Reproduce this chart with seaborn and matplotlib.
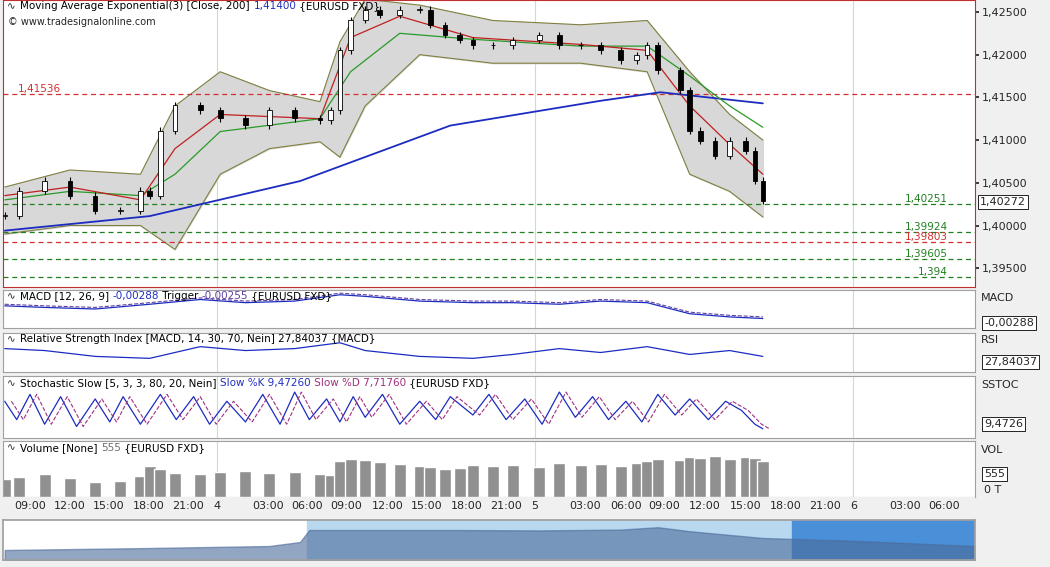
import matplotlib
matplotlib.use("Agg")
import matplotlib.pyplot as plt
import seaborn as sns
import numpy as np

sns.set_theme(style="white")
plt.rcParams['font.family'] = ['DejaVu Sans']

# ---- data (hours from 09:00 day 3) ----
hours = [-1.9,-0.8,1.1,3.0,4.9,6.8,8.3,9.0,9.8,10.9,12.8,14.3,16.2,18.0,19.9,21.8,22.6,23.3,24.1,25.2,26.3,27.8,29.3,30.1,31.2,32.3,33.3,34.8,36.3,38.3,39.8,41.4,42.9,44.4,45.6,46.4,47.2,48.9,49.6,50.4,51.5,52.6,53.8,54.5,55.1]
closes = [1.40113,1.40407,1.40524,1.40348,1.40171,1.40171,1.40407,1.40348,1.41112,1.41406,1.41347,1.41253,1.41171,1.41347,1.41253,1.41230,1.41347,1.42053,1.42406,1.42524,1.42465,1.42524,1.42524,1.42347,1.42230,1.42171,1.42112,1.42112,1.42171,1.42230,1.42112,1.42112,1.42053,1.41935,1.41994,1.42112,1.41818,1.41583,1.41112,1.40994,1.40818,1.40994,1.40877,1.40524,1.40289]
ema200_h = [-1.9, 9.0, 20.3, 31.6, 42.9, 47.4, 55.1]
ema200 = [1.3994, 1.4011, 1.4052, 1.4117, 1.4146, 1.4156, 1.4143]
bb_h = [-1.9, 3.0, 8.3, 10.9, 14.3, 18.0, 21.8, 23.3, 25.2, 29.3, 34.8, 41.4, 46.4, 49.6, 52.6, 55.1]
bb_up = [1.4045, 1.4065, 1.4060, 1.4140, 1.4180, 1.4158, 1.4145, 1.4215, 1.4265, 1.4258, 1.4240, 1.4235, 1.4240, 1.4180, 1.4130, 1.4100]
bb_lo = [1.3990, 1.4000, 1.4000, 1.3972, 1.4060, 1.4090, 1.4098, 1.4080, 1.4140, 1.4200, 1.4190, 1.4190, 1.4180, 1.4060, 1.4040, 1.4010]
ema3_h = [-1.9, 3.0, 8.3, 10.9, 14.3, 21.8, 24.1, 27.8, 33.3, 41.4, 46.4, 49.6, 52.6, 55.1]
ema3 = [1.4035, 1.4045, 1.4030, 1.4090, 1.4130, 1.4125, 1.4220, 1.4245, 1.4220, 1.4212, 1.4205, 1.4140, 1.4095, 1.4060]
ema20 = [1.4030, 1.4040, 1.4035, 1.4060, 1.4110, 1.4125, 1.4180, 1.4225, 1.4218, 1.4210, 1.4210, 1.4175, 1.4140, 1.4115]
levels_red = [1.41536, 1.39803]
levels_green = [1.40251, 1.39924, 1.39605, 1.394]
osc_h = [-1.9,1.1,4.9,9.0,12.8,16.2,19.9,23.3,25.2,29.3,33.3,36.3,39.8,42.9,46.4,49.6,52.6,55.1]
macd = [0.2,0.1,0.0,0.3,0.6,0.4,0.5,0.9,0.8,0.5,0.4,0.4,0.3,0.5,0.4,-0.3,-0.5,-0.6]
rsi = [60,55,40,35,65,55,60,75,55,40,35,45,60,50,65,45,55,40]
stk_h = [-1.9,-1.0,0.0,1.1,2.3,3.5,4.9,6.0,7.0,8.3,9.8,11.0,12.3,13.5,14.8,16.2,17.5,18.8,19.9,21.0,22.3,23.3,24.3,25.2,26.5,27.8,29.3,30.5,31.6,33.3,34.5,35.8,37.2,38.5,39.8,41.0,42.3,43.5,44.8,46.0,47.2,48.5,49.6,51.0,52.3,53.5,54.5,55.1]
stoch = [70,30,85,20,80,15,75,25,80,20,85,30,80,20,70,25,85,20,90,30,75,25,80,35,85,20,70,30,80,40,85,30,75,20,90,35,80,30,70,25,85,40,75,30,70,50,20,10]
vol = [35,40,45,38,30,32,42,60,55,48,45,50,52,48,50,46,44,70,75,72,68,65,60,58,55,57,62,60,63,58,66,62,64,60,66,70,75,72,78,76,80,74,78,76,70]
nav_h = [-1.9, 9.0, 18.0, 20.3, 21.0, 31.6, 38.3, 44.4, 47.2, 49.6, 55.1, 62.0, 71.0]
nav = [0.25, 0.30, 0.35, 0.45, 0.75, 0.75, 0.74, 0.76, 0.82, 0.72, 0.55, 0.48, 0.35]
tick_pos = [0, 3.0, 5.9, 8.95, 11.9, 14.06, 17.9, 20.8, 23.8, 26.9, 29.85, 32.8, 35.8, 37.97, 41.7, 44.8, 47.7, 50.7, 53.8, 56.8, 59.8, 61.9, 65.8, 68.7]
tick_labels = ["09:00","12:00","15:00","18:00","21:00","4","03:00","06:00","09:00","12:00","15:00","18:00","21:00","5","03:00","06:00","09:00","12:00","15:00","18:00","21:00","6","03:00","06:00"]

XMIN, XMAX = -2.03, 71.05
W, H = 1050, 567
fig = plt.figure(figsize=(10.5, 5.67), dpi=100, facecolor="#f0f0f0")
renderer = fig.canvas.get_renderer()

def mkax(top, bot):
    ax = fig.add_axes([3/W, 1-bot/H, 972/W, (bot-top)/H])
    ax.set_xlim(XMIN, XMAX)
    ax.set_facecolor("white")
    ax.yaxis.tick_right()
    ax.tick_params(axis="y", labelsize=8, length=3, pad=2)
    ax.set_xticks([])
    for s in ax.spines.values():
        s.set_color("#a0a0a0"); s.set_linewidth(0.8)
    for d in [14.06, 37.97, 61.9]:
        ax.axvline(d, color="#c8e0c8", lw=0.8, zorder=0)
    return ax

def title(a, parts, y=0.97):
    x = 0.018
    for t, c in parts:
        tx = a.text(x, y, t, transform=a.transAxes, fontsize=7.5, va="top", color=c)
        bb = tx.get_window_extent(renderer)
        x += bb.width / (972 * 1.0)
    a.text(0.004, y, "∿", transform=a.transAxes, fontsize=7.5, va="top")

# main
ax = mkax(0, 287)
ax.set_ylim(1.3928, 1.4264)
ax.fill_between(bb_h, bb_lo, bb_up, color="#d8d8d8", zorder=1)
ax.plot(bb_h, bb_up, color="#808040", lw=0.8, zorder=2)
ax.plot(bb_h, bb_lo, color="#808040", lw=0.8, zorder=2)
ax.plot(ema200_h, ema200, color="#1c2cc0", lw=1.3, zorder=3)
ax.plot(ema3_h, ema20, color="#2a9a2a", lw=0.9, zorder=3)
ax.plot(ema3_h, ema3, color="#c02020", lw=0.9, zorder=3)
for lv in levels_red:
    ax.axhline(lv, color="#d03030", ls=(0, (4, 3)), lw=0.9, zorder=2)
for lv in levels_green:
    ax.axhline(lv, color="#208020", ls=(0, (4, 3)), lw=0.9, zorder=2)
opens = [closes[0]] + closes[:-1]
for h, o, c in zip(hours, opens, closes):
    lo, hi = min(o, c), max(o, c)
    ax.vlines(h, lo - 0.0004, hi + 0.0004, color="black", lw=0.8, zorder=4)
    ax.bar(h, max(hi - lo, 0.00005), bottom=lo, width=0.35, color="white" if c >= o else "black", edgecolor="black", lw=0.6, zorder=5)
ax.set_yticks([1.395, 1.4, 1.405, 1.41, 1.415, 1.42, 1.425])
ax.set_yticklabels(["1,39500","1,40000","1,40500","1,41000","1,41500","1,42000","1,42500"])
for s in ax.spines.values():
    s.set_color("#c03030")
title(ax, [("Moving Average Exponential(3) [Close, 200] ", "black"), ("1,41400", "#2030c0"), (" {EURUSD FXD}", "black")], y=0.995)
ax.text(0.005, 0.94, "© www.tradesignalonline.com", transform=ax.transAxes, fontsize=7, va="top")
ax.text(-0.9, 1.41536, "1,41536", fontsize=7.5, color="#d03030", va="bottom")
for lv, t, c in [(1.40251,"1,40251","#208020"),(1.39924,"1,39924","#208020"),(1.39803,"1,39803","#d03030"),(1.39605,"1,39605","#208020"),(1.394,"1,394","#208020")]:
    ax.text(69.0, lv, t, fontsize=7.5, color=c, va="bottom", ha="right")
ax.text(1.005, (1.40272-1.3928)/(1.4264-1.3928), "1,40272", transform=ax.transAxes, fontsize=8, va="center",
        bbox=dict(boxstyle="square,pad=0.2", fc="white", ec="black", lw=0.6))

# MACD
a1 = mkax(290, 328)
a1.plot(osc_h, macd, color="#1c2cc0", lw=0.9)
a1.plot(osc_h, [m + 0.1 for m in macd], color="#6040a0", lw=0.8, ls="--")
a1.set_ylim(-1.2, 1.2); a1.set_yticks([])
title(a1, [("MACD [12, 26, 9] ", "black"), ("-0,00288", "#2030c0"), (" Trigger ", "black"), ("-0,00255", "#6040a0"), (" {EURUSD FXD}", "black")])
fig.text(981/W, 1-298/H, "MACD", fontsize=8, va="center")
fig.text(984/W, 1-323/H, "-0,00288", fontsize=8, va="center", bbox=dict(boxstyle="square,pad=0.15", fc="white", ec="black", lw=0.6))

# RSI
a2 = mkax(333, 372)
a2.plot(osc_h, rsi, color="#1c2cc0", lw=0.9)
a2.set_ylim(0, 100); a2.set_yticks([])
title(a2, [("Relative Strength Index [MACD, 14, 30, 70, Nein] 27,84037 {MACD}", "black")])
fig.text(981/W, 1-340/H, "RSI", fontsize=8, va="center")
fig.text(984/W, 1-362/H, "27,84037", fontsize=8, va="center", bbox=dict(boxstyle="square,pad=0.15", fc="white", ec="black", lw=0.6))

# Stoch
a3 = mkax(376, 438)
a3.plot(stk_h, stoch, color="#1c2cc0", lw=0.9)
a3.plot([h + 0.5 for h in stk_h], stoch, color="#a03080", lw=0.8, ls="--")
a3.set_ylim(-10, 125); a3.set_yticks([])
title(a3, [("Stochastic Slow [5, 3, 3, 80, 20, Nein] ", "black"), ("Slow %K 9,47260", "#2030c0"), (" Slow %D 7,71760", "#a03080"), (" {EURUSD FXD}", "black")])
fig.text(981/W, 1-385/H, "SSTOC", fontsize=8, va="center")
fig.text(984/W, 1-424/H, "9,4726", fontsize=8, va="center", bbox=dict(boxstyle="square,pad=0.15", fc="white", ec="black", lw=0.6))

# Volume
a4 = mkax(441, 497)
a4.bar(hours, vol, width=0.9, color="#909090")
a4.set_ylim(0, 110); a4.set_yticks([])
title(a4, [("Volume [None] ", "black"), ("555", "#707070"), (" {EURUSD FXD}", "black")])
fig.text(981/W, 1-450/H, "VOL", fontsize=8, va="center")
fig.text(984/W, 1-474/H, "555", fontsize=8, va="center", bbox=dict(boxstyle="square,pad=0.15", fc="white", ec="black", lw=0.6))
fig.text(984/W, 1-490/H, "0 T", fontsize=8, va="center")

# time axis
at = fig.add_axes([3/W, 1-520/H, 972/W, 23/H])
at.set_xlim(XMIN, XMAX); at.set_ylim(0, 1)
at.set_facecolor("#f0f0f0"); at.set_yticks([])
at.set_xticks(tick_pos); at.set_xticklabels(tick_labels, fontsize=8)
at.tick_params(axis="x", direction="in", length=4, pad=-14)
for s in at.spines.values():
    s.set_visible(False)

# navigator
an = fig.add_axes([3/W, 1-560/H, 972/W, 40/H])
an.set_xlim(XMIN, XMAX); an.set_ylim(0, 1)
an.axvspan(20.8, 57.3, color="#b8d8f0")
an.axvspan(57.3, XMAX, color="#4a90d8")
an.fill_between(nav_h, 0, nav, color="#4a6a9a", alpha=0.6)
an.set_xticks([]); an.set_yticks([])
an.set_facecolor("white")
for s in an.spines.values():
    s.set_color("#a0a0a0")

fig.savefig("out.png", dpi=100, facecolor=fig.get_facecolor())
